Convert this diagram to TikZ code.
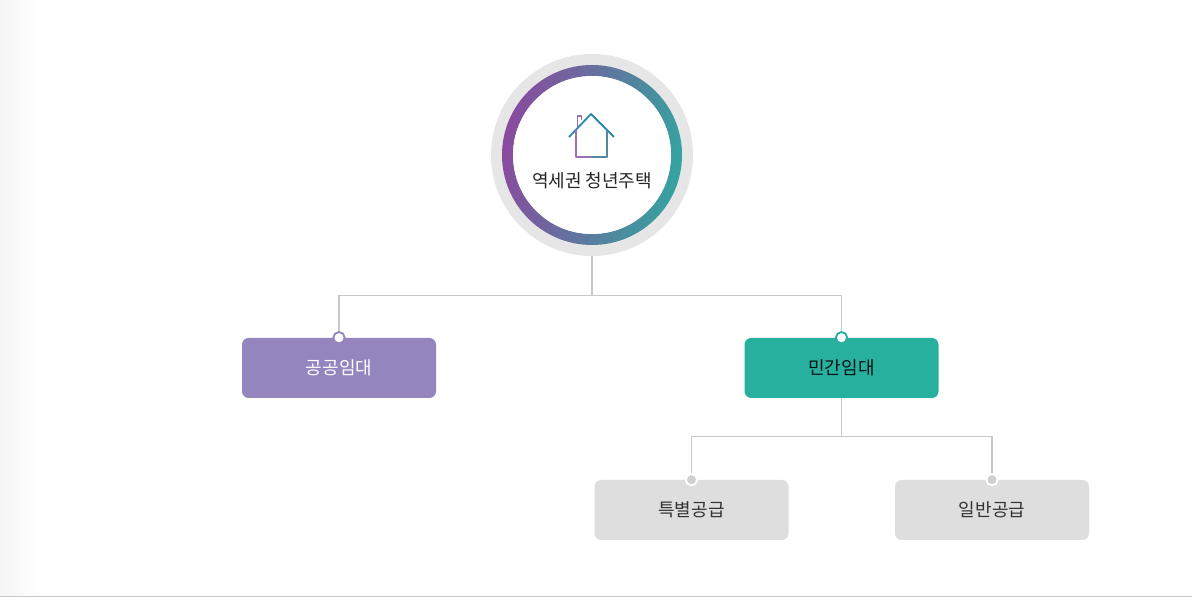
\documentclass[tikz,border=0pt]{standalone}
\usepackage{fontspec}
\newfontfamily\kr{Noto Sans CJK KR}
\usetikzlibrary{calc}
\definecolor{ringgray}{HTML}{E6E6E6}
\definecolor{ringpurple}{HTML}{8A4A9E}
\definecolor{ringteal}{HTML}{35A3A0}
\definecolor{linegray}{HTML}{C8C8C8}
\definecolor{pubpurple}{HTML}{9485BF}
\definecolor{privteal}{HTML}{28B09F}
\definecolor{boxgray}{HTML}{DEDEDE}
\definecolor{dotgray}{HTML}{D0D0D0}

\begin{document}
\begin{tikzpicture}[x=0.75pt, y=0.75pt,
	link/.style={draw=linegray, line width=0.9pt},
	box/.style={rectangle, rounded corners=5pt, minimum width=145.5pt, minimum height=45pt, inner sep=0pt, font=\kr\fontsize{13.5}{15}\selectfont},
	dot/.style={circle, inner sep=0pt, minimum size=8.5pt, line width=1.4pt}]
	%%%%% START %%%%%
	\useasboundingbox (0, 0) rectangle (1192, 606);
	\fill[white] (0, 0) rectangle (1192, 606);
	\shade[left color=black!4, right color=white] (0, 10) rectangle (40, 606);
	\draw[draw=black!22, line width=1.1pt] (0, 9.5) -- (1192, 9.5);
	
	% top circle
	\node[circle, fill=ringgray, minimum size=151.5pt, inner sep=0pt] (root) at (592, 451) {};
	\shade[left color=ringpurple, right color=ringteal, shading angle=80, even odd rule] (root.center) circle (90) circle (79);
	\fill[white] (root.center) circle (79);
	\draw[ringteal!85!blue, line width=1.4pt, line join=round] (569, 469) -- (591, 492) -- (614, 469);
	\draw[ringpurple!80, line width=1.4pt, line join=round] (577.5, 479) -- (577.5, 490) -- (581.5, 490) -- (581.5, 486);
	\draw[ringpurple!80, line width=1.4pt, line join=round] (576, 476) -- (576, 449) -- (591, 449);
	\draw[ringteal!70!ringpurple, line width=1.4pt, line join=round] (591, 449) -- (607, 449) -- (607, 476);
	\node[font=\kr\fontsize{13.5}{15}\selectfont, text=black!85] (title) at (592, 425) {역세권 청년주택};
	
	% boxes
	\node[box, fill=pubpurple, text=white] (pub) at (339, 238) {공공임대};
	\node[box, fill=privteal, text=black!85!teal] (priv) at (841.5, 238) {민간임대};
	\node[box, fill=boxgray, text=black!80] (spec) at (691.5, 96) {특별공급};
	\node[box, fill=boxgray, text=black!80] (gen) at (992, 96) {일반공급};
	
	% connectors
	\draw[link] (root.south) -- ++(0, -39) coordinate (busA);
	\draw[link] (busA) -| (pub.north);
	\draw[link] (busA) -| (priv.north);
	\draw[link] (priv.south) -- ++(0, -38) coordinate (busB);
	\draw[link] (busB) -| (spec.north);
	\draw[link] (busB) -| (gen.north);
	
	\node[dot, fill=white, draw=pubpurple] at (pub.north) {};
	\node[dot, fill=white, draw=privteal] at (priv.north) {};
	\node[dot, fill=dotgray, draw=white] at (spec.north) {};
	\node[dot, fill=dotgray, draw=white] at (gen.north) {};
	%%%%% END %%%%%
\end{tikzpicture}
\end{document}
